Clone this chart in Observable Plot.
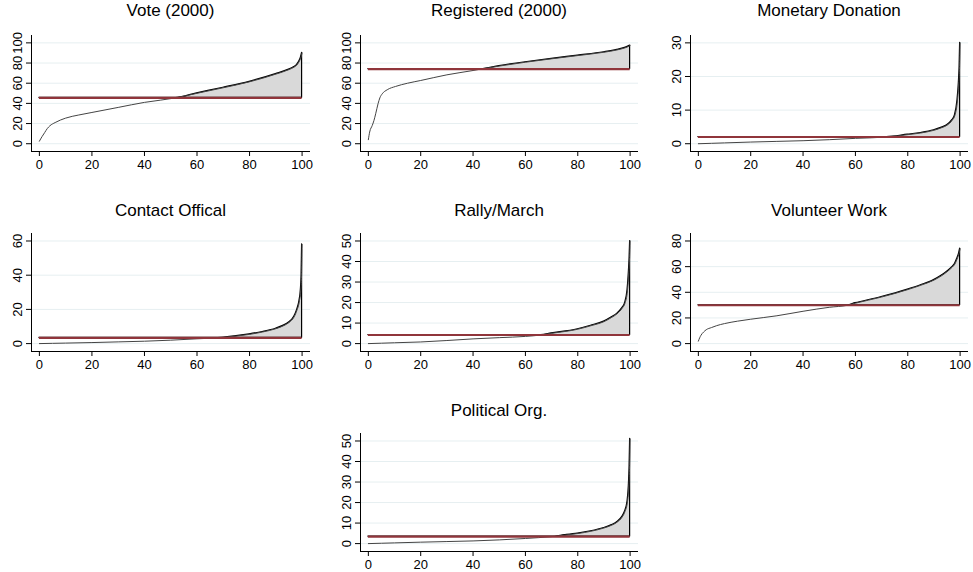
<!DOCTYPE html>
<html>
<head>
<meta charset="utf-8">
<script src="https://cdn.jsdelivr.net/npm/d3@7"></script>
<script src="https://cdn.jsdelivr.net/npm/@observablehq/plot@0.6"></script>
<style>
  html, body { margin: 0; padding: 0; background: white; }
  #wrap { position: relative; width: 973px; height: 572px; background: white; overflow: hidden;
          font-family: "Liberation Sans", Arial, Helvetica, sans-serif; }
  .panel { position: absolute; }
  .title { position: absolute; text-align: center; font-size: 17px; line-height: 20px; color: #000; white-space: nowrap; }
</style>
</head>
<body>
<div id="wrap"></div>
<script>
// ---------- data ----------
const titles = ["Vote (2000)", "Registered (2000)", "Monetary Donation",
                "Contact Offical", "Rally/March", "Volunteer Work", "Political Org."];

const xTicks = [0, 20, 40, 60, 80, 100];

const pctVote = [0, 1, 2, 3, 4, 6, 10, 15, 20, 30, 40, 52, 60, 70, 80, 90, 95, 97, 98, 99, 99.5, 100];
const valVote = [2.5, 7, 11, 15, 17.8, 21, 25.4, 28.5, 31, 36, 41, 45.5, 50, 55.5, 61.4, 69, 73.5, 76, 78, 82, 85, 90];
const meanVote = 45.5;
const ticksVote = [0, 20, 40, 60, 80, 100];

const pctReg = [0, 0.5, 1.5, 2.15, 2.8, 3.7, 4.4, 5.3, 7.2, 10.4, 15, 20, 30, 40, 43, 50, 60, 70, 80, 90, 95, 98, 99, 100];
const valReg = [4, 11.6, 18.2, 23.1, 29.7, 39.6, 45.5, 49.5, 53.5, 56.8, 60, 62.7, 68.3, 72.6, 74, 77, 80.8, 84.2, 87.4, 90.7, 93, 95, 96, 97.3];
const meanReg = 74;
const ticksReg = [0, 20, 40, 60, 80, 100];

const pctMon = [0, 10, 20, 30, 40, 50, 60, 72, 80, 85, 90, 93, 95, 97, 98, 99, 99.5, 99.8, 100];
const valMon = [0, 0.25, 0.5, 0.7, 0.9, 1.2, 1.6, 2.0, 2.7, 3.2, 4.0, 4.8, 5.5, 7, 8.4, 13, 18, 23, 30];
const meanMon = 2.0;
const ticksMon = [0, 10, 20, 30];

const pctCon = [0, 10, 20, 30, 40, 50, 60, 68, 75, 80, 85, 90, 93, 95, 97, 98, 99, 99.5, 99.8, 100];
const valCon = [0, 0.3, 0.6, 1.0, 1.4, 2.0, 2.8, 3.4, 4.4, 5.4, 6.8, 8.7, 10.5, 12.3, 15.7, 19.3, 25, 31, 40, 58];
const meanCon = 3.4;
const ticksCon = [0, 20, 40, 60];

const pctRal = [0, 10, 20, 30, 40, 50, 60, 66, 70, 80, 85, 90, 93, 95, 97, 98, 99, 99.5, 99.8, 100];
const valRal = [0, 0.4, 0.8, 1.5, 2.3, 2.9, 3.5, 4.2, 5.0, 7.0, 8.7, 10.7, 12.8, 14.5, 17.3, 19.5, 26, 34.5, 42, 50];
const meanRal = 4.2;
const ticksRal = [0, 10, 20, 30, 40, 50];

const pctVol = [0, 0.5, 1, 2, 3, 5, 7, 10, 15, 20, 30, 40, 50, 57, 60, 70, 80, 85, 90, 93, 95, 97, 98, 99, 99.5, 100];
const valVol = [1.9, 4.5, 6.5, 9, 10.8, 12.5, 14, 15.6, 17.5, 19, 21.7, 25.2, 28.3, 29.9, 31.5, 36.3, 42.1, 45.5, 49.5, 53, 56, 59.6, 62, 66.8, 69.5, 74];
const meanVol = 29.9;
const ticksVol = [0, 20, 40, 60, 80];

const pctPol = [0, 10, 20, 30, 40, 50, 60, 70, 75, 80, 85, 90, 93, 95, 97, 98, 99, 99.5, 99.8, 100];
const valPol = [0, 0.35, 0.7, 1.0, 1.3, 1.8, 2.5, 3.4, 4.1, 4.9, 6.0, 7.6, 9.0, 10.4, 13, 15.5, 20.5, 28, 38, 51];
const meanPol = 3.4;
const ticksPol = [0, 10, 20, 30, 40, 50];

// ---------- layout ----------
const series = [
  {pct: pctVote, val: valVote, mean: meanVote, ticks: ticksVote, col: 0, row: 0},
  {pct: pctReg,  val: valReg,  mean: meanReg,  ticks: ticksReg,  col: 1, row: 0},
  {pct: pctMon,  val: valMon,  mean: meanMon,  ticks: ticksMon,  col: 2, row: 0},
  {pct: pctCon,  val: valCon,  mean: meanCon,  ticks: ticksCon,  col: 0, row: 1},
  {pct: pctRal,  val: valRal,  mean: meanRal,  ticks: ticksRal,  col: 1, row: 1},
  {pct: pctVol,  val: valVol,  mean: meanVol,  ticks: ticksVol,  col: 2, row: 1},
  {pct: pctPol,  val: valPol,  mean: meanPol,  ticks: ticksPol,  col: 1, row: 2}
];

const colLeft = [0, 324, 648];
const colML = [31, 36, 42];
const colMR = [14, 10, 4];
const rowTop = [0, 200, 400];
const rowMT = [35, 33, 33];
const PW = 324, PH = 200, MB = 49;

const font = '"Liberation Sans", Arial, Helvetica, sans-serif';
const wrap = document.getElementById("wrap");

series.forEach((s, i) => {
  const rows = s.pct.map((p, k) => ({p, v: s.val[k], top: Math.max(s.val[k], s.mean)}));
  const M = s.ticks[s.ticks.length - 1];
  const xDom = [-3, 103.2];
  const yDom = [-0.077 * M, 1.073 * M];
  const ml = colML[s.col], mr = colMR[s.col], mt = rowMT[s.row];

  const chart = Plot.plot({
    width: PW, height: PH,
    marginLeft: ml, marginRight: mr, marginTop: mt, marginBottom: MB,
    x: {domain: xDom},
    y: {domain: yDom},
    style: {fontFamily: font, fontSize: "13px", color: "#000", background: "white", overflow: "visible"},
    marks: [
      Plot.gridY(s.ticks, {stroke: "#e6eff1", strokeOpacity: 1, strokeWidth: 1}),
      Plot.areaY(rows, {x: "p", y1: () => s.mean, y2: "top", fill: "#d9d9d9", stroke: "#000", strokeWidth: 1.2, curve: "monotone-x"}),
      Plot.lineY(rows, {x: "p", y: "v", stroke: "#444", strokeWidth: 1, curve: "monotone-x"}),
      Plot.ruleY([s.mean], {x1: s.pct[0], x2: s.pct[s.pct.length - 1], stroke: "#90353b", strokeWidth: 2.2}),
      Plot.ruleX([xDom[0]], {stroke: "#000", strokeWidth: 1}),
      Plot.ruleY([yDom[0]], {stroke: "#000", strokeWidth: 1}),
      Plot.axisX(xTicks, {tickSize: 5, tickPadding: 3, label: null, fontSize: 13}),
      Plot.axisY(s.ticks, {tickSize: 5, tickPadding: 5, tickRotate: -90, label: null, fontSize: 13})
    ]
  });
  const div = document.createElement("div");
  div.className = "panel";
  div.style.left = colLeft[s.col] + "px";
  div.style.top = rowTop[s.row] + "px";
  div.appendChild(chart);
  wrap.appendChild(div);

  const t = document.createElement("div");
  t.className = "title";
  t.textContent = titles[i];
  t.style.left = (colLeft[s.col] + ml) + "px";
  t.style.width = (PW - ml - mr) + "px";
  t.style.top = (rowTop[s.row] + 1) + "px";
  wrap.appendChild(t);
});
</script>
</body>
</html>
